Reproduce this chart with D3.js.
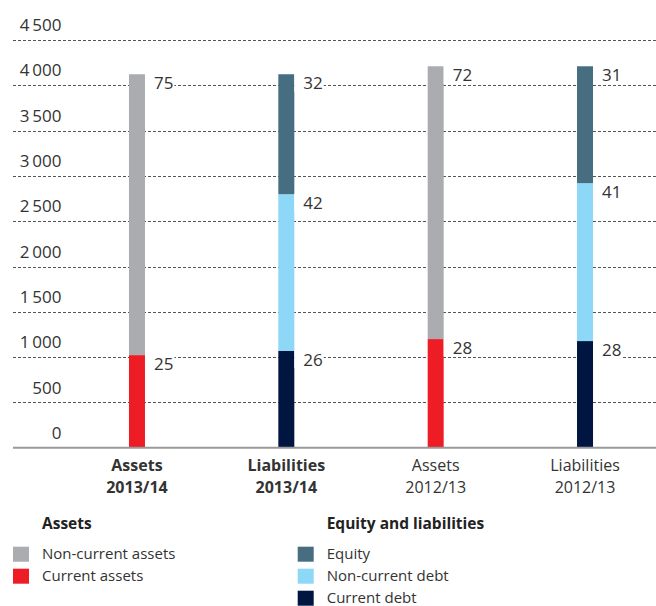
<!DOCTYPE html>
<html>
<head>
<meta charset="utf-8">
<script src="https://cdn.jsdelivr.net/npm/d3@7/dist/d3.min.js"></script>
<style>
  html, body { margin: 0; padding: 0; background: #fff; }
  svg { display: block; font-family: "Open Sans", "Noto Sans", sans-serif; }
</style>
</head>
<body>
<svg id="chart" width="656" height="606"></svg>
<script>
// ---- Data ----
const categories = ["Assets 2013/14", "Liabilities 2013/14", "Assets 2012/13", "Liabilities 2012/13"];
const categoryLine1 = ["Assets", "Liabilities", "Assets", "Liabilities"];
const categoryLine2 = ["2013/14", "2013/14", "2012/13", "2012/13"];
const categoryBold = [true, true, false, false];

const currentAssets    = [1022, 0, 1199, 0];
const nonCurrentAssets = [3100, 0, 3011, 0];
const currentDebt      = [0, 1070, 0, 1177];
const nonCurrentDebt   = [0, 1728, 0, 1743];
const equity           = [0, 1324, 0, 1290];

const currentAssetsPct    = [25, null, 28, null];
const nonCurrentAssetsPct = [75, null, 72, null];
const currentDebtPct      = [null, 26, null, 28];
const nonCurrentDebtPct   = [null, 42, null, 41];
const equityPct           = [null, 32, null, 31];

const yTicks = [0, 500, 1000, 1500, 2000, 2500, 3000, 3500, 4000, 4500];

const seriesKeys = ["currentAssets", "nonCurrentAssets", "currentDebt", "nonCurrentDebt", "equity"];
const seriesNames = {
  currentAssets: "Current assets", nonCurrentAssets: "Non-current assets",
  currentDebt: "Current debt", nonCurrentDebt: "Non-current debt", equity: "Equity"
};
const seriesValues = { currentAssets, nonCurrentAssets, currentDebt, nonCurrentDebt, equity };
const seriesPct = {
  currentAssets: currentAssetsPct, nonCurrentAssets: nonCurrentAssetsPct,
  currentDebt: currentDebtPct, nonCurrentDebt: nonCurrentDebtPct, equity: equityPct
};
const colors = {
  nonCurrentAssets: "#ABACAF", currentAssets: "#EE1C25",
  equity: "#466E80", nonCurrentDebt: "#8DD7F7", currentDebt: "#001641"
};

// ---- Build table ----
const table = categories.map((c, i) => {
  const row = { category: c };
  seriesKeys.forEach(k => row[k] = seriesValues[k][i]);
  return row;
});
const stacked = d3.stack().keys(seriesKeys)(table);

// ---- Scales ----
const svg = d3.select("#chart");
const x = d3.scaleBand().domain(categories).range([62.3, 659.7]).paddingInner(0).paddingOuter(0);
const y = d3.scaleLinear().domain([0, 4500]).range([447.7, 40]);
const barW = 16;
const textColor = "#333";

// ---- Gridlines ----
const gridLeft = 13, gridRight = 656;
svg.append("g").selectAll("line")
  .data(yTicks.filter(d => d > 0))
  .join("line")
  .attr("x1", gridLeft).attr("x2", gridRight)
  .attr("y1", d => Math.round(y(d)) + 0.5).attr("y2", d => Math.round(y(d)) + 0.5)
  .attr("stroke", "#555").attr("stroke-width", 1).attr("stroke-dasharray", "3,2");

// ---- Y axis labels ----
const fmt = d => d >= 1000 ? d3.format(",")(d).replace(",", "\u2009") : String(d);
const yAxis = d3.axisLeft(y).tickValues(yTicks).tickSize(0).tickPadding(0).tickFormat(fmt);
const yg = svg.append("g").attr("transform", "translate(61.5,0)").call(yAxis);
yg.select(".domain").remove();
yg.selectAll("text")
  .attr("dy", "-0.55em")
  .attr("fill", textColor)
  .style("font-size", "17px")
  .style("font-family", "'Open Sans', sans-serif");

// ---- Bars ----
const layers = svg.append("g").selectAll("g")
  .data(stacked).join("g").attr("fill", d => colors[d.key]);
layers.selectAll("rect")
  .data(d => d.filter(s => s[1] - s[0] > 0))
  .join("rect")
  .attr("x", d => x(d.data.category) + x.bandwidth() / 2 - barW / 2)
  .attr("width", barW)
  .attr("y", d => y(d[1]))
  .attr("height", d => y(d[0]) - y(d[1]));

// ---- Percent labels (with white backing that interrupts the gridlines) ----
const labelG = svg.append("g");
stacked.forEach(layer => {
  const pct = seriesPct[layer.key];
  layer.forEach((s, i) => {
    if (pct[i] == null) return;
    const barRight = x(s.data.category) + x.bandwidth() / 2 + barW / 2;
    const cy = y(s[1]) + 8.5;
    const bg = labelG.append("rect").attr("fill", "#fff");
    const t = labelG.append("text")
      .attr("x", barRight + 9)
      .attr("y", cy)
      .attr("dominant-baseline", "central")
      .attr("fill", textColor)
      .style("font-size", "17px")
      .text(pct[i]);
    const w = t.node().getComputedTextLength();
    bg.attr("x", barRight).attr("y", cy - 9).attr("width", 9 + w + 1).attr("height", 18);
  });
});

// ---- Baseline ----
svg.append("line")
  .attr("x1", gridLeft).attr("x2", gridRight)
  .attr("y1", y(0)).attr("y2", y(0))
  .attr("stroke", "#999").attr("stroke-width", 2);

// ---- Category labels ----
const xAxisG = svg.append("g");
categories.forEach((c, i) => {
  const cx = x(c) + x.bandwidth() / 2;
  [categoryLine1[i], categoryLine2[i]].forEach((line, j) => {
    xAxisG.append("text")
      .attr("x", cx).attr("y", 464.7 + j * 22)
      .attr("text-anchor", "middle")
      .attr("dominant-baseline", "central")
      .attr("fill", textColor)
      .style("font-size", "16px")
      .style("font-weight", categoryBold[i] ? "700" : "400")
      .text(line);
  });
});

// ---- Legend ----
const legendGroups = [
  { title: "Assets", x: 13, keys: ["nonCurrentAssets", "currentAssets"] },
  { title: "Equity and liabilities", x: 297.7, keys: ["equity", "nonCurrentDebt", "currentDebt"] }
];
const leg = svg.append("g");
legendGroups.forEach(g => {
  leg.append("text")
    .attr("x", g.x + 29).attr("y", 523).attr("dominant-baseline", "central")
    .attr("fill", "#222").style("font-size", "15.5px").style("font-weight", "700")
    .text(g.title);
  g.keys.forEach((k, j) => {
    const yy = 546.7 + j * 22;
    leg.append("rect").attr("x", g.x).attr("y", yy).attr("width", 16).attr("height", 15)
      .attr("fill", colors[k]);
    leg.append("text")
      .attr("x", g.x + 29).attr("y", yy + 6.5).attr("dominant-baseline", "central")
      .attr("fill", textColor).style("font-size", "15px")
      .text(seriesNames[k]);
  });
});
</script>
</body>
</html>
